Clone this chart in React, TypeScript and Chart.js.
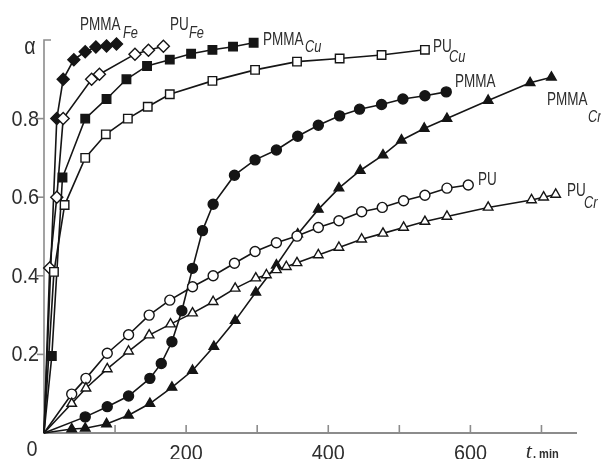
import React, { useEffect, useRef } from "react";
import { Chart, registerables } from "chart.js";

Chart.register(...registerables);

// time, min
const pmmaFeT = [0, 18, 27, 42, 58, 73, 88, 102];
const pmmaFeA = [0, 0.8, 0.9, 0.95, 0.97, 0.982, 0.985, 0.99];

const puFeT = [0, 8, 18, 27, 67, 78, 128, 147, 168];
const puFeA = [0, 0.42, 0.6, 0.8, 0.9, 0.913, 0.964, 0.974, 0.984];

const pmmaCuT = [0, 11, 26, 58, 88, 116, 145, 177, 207, 237, 266, 295];
const pmmaCuA = [0, 0.196, 0.65, 0.8, 0.85, 0.9, 0.934, 0.95, 0.965, 0.975, 0.983, 0.993];

const puCuT = [0, 14, 29, 58, 87, 118, 146, 177, 237, 297, 356, 416, 475, 536];
const puCuA = [0, 0.41, 0.58, 0.7, 0.76, 0.8, 0.83, 0.862, 0.896, 0.924, 0.945, 0.953, 0.962, 0.975];

const pmmaT = [0, 58, 89, 119, 149, 165, 180, 194, 209, 223, 238, 268, 297, 327, 357, 386, 416, 444, 475, 505, 536, 566];
const pmmaA = [0, 0.041, 0.067, 0.094, 0.139, 0.177, 0.232, 0.311, 0.419, 0.515, 0.582, 0.656, 0.695, 0.72, 0.755, 0.783, 0.807, 0.824, 0.836, 0.85, 0.858, 0.868];

const pmmaCrT = [0, 39, 58, 88, 119, 149, 180, 209, 239, 269, 298, 327, 357, 386, 415, 445, 477, 503, 535, 567, 625, 684, 714];
const pmmaCrA = [0, 0.01, 0.012, 0.023, 0.045, 0.075, 0.116, 0.159, 0.22, 0.286, 0.358, 0.427, 0.506, 0.569, 0.623, 0.668, 0.707, 0.745, 0.775, 0.8, 0.846, 0.891, 0.905];

const puT = [0, 39, 59, 89, 119, 148, 177, 209, 238, 268, 297, 327, 356, 386, 415, 447, 476, 506, 536, 567, 597];
const puA = [0, 0.099, 0.139, 0.203, 0.25, 0.3, 0.338, 0.372, 0.4, 0.432, 0.462, 0.484, 0.501, 0.523, 0.54, 0.563, 0.574, 0.591, 0.605, 0.623, 0.631];

const puCrT = [0, 39, 59, 89, 119, 148, 178, 209, 238, 269, 298, 313, 327, 341, 356, 386, 415, 447, 477, 506, 536, 567, 625, 686, 703, 720];
const puCrA = [0, 0.075, 0.114, 0.163, 0.208, 0.249, 0.277, 0.305, 0.334, 0.368, 0.394, 0.402, 0.415, 0.423, 0.433, 0.453, 0.472, 0.493, 0.508, 0.523, 0.538, 0.551, 0.574, 0.593, 0.6, 0.607];

const xTickMarks = [100, 200, 300, 400, 500, 600, 700];
const xLabelValues = [200, 400, 600];
const xLabelTexts = ["200", "400", "600"];
const yTickMarks = [0.2, 0.4, 0.6, 0.8];
const yLabelTexts = ["0.2", "0.4", "0.6", "0.8"];

const INK = "#151515";
const AXIS = "#8c8c8c";
const TEXT = "#2e2e2e";

function series(label: string, xs: number[], ys: number[], style: string, filled: boolean, r: number) {
  return {
    label,
    data: xs.map((x, i) => ({ x, y: ys[i] })),
    borderColor: INK,
    borderWidth: 1.6,
    pointStyle: style,
    pointRadius: xs.map((x) => (x === 0 ? 0 : r)),
    pointBackgroundColor: filled ? INK : "#ffffff",
    pointBorderColor: INK,
    pointBorderWidth: 1.4,
    tension: 0,
    fill: false,
    clip: false as any,
  };
}

function scaledText(ctx: CanvasRenderingContext2D, text: string, x: number, y: number, font: string, sx: number, align: CanvasTextAlign = "left", baseline: CanvasTextBaseline = "alphabetic") {
  ctx.save();
  ctx.translate(x, y);
  ctx.scale(sx, 1);
  ctx.font = font;
  ctx.textAlign = align;
  ctx.textBaseline = baseline;
  ctx.fillText(text, 0, 0);
  ctx.restore();
}

const decorPlugin = {
  id: "decor",
  beforeDatasetsDraw(chart: any) {
    const ctx: CanvasRenderingContext2D = chart.ctx;
    const xs = chart.scales.x;
    const ys = chart.scales.y;
    const x0 = xs.getPixelForValue(0);
    const x1 = xs.getPixelForValue(750);
    const y0 = ys.getPixelForValue(0);
    const y1 = ys.getPixelForValue(1);
    ctx.save();
    ctx.strokeStyle = AXIS;
    ctx.lineWidth = 2;
    ctx.beginPath();
    ctx.moveTo(x0 - 1, y0);
    ctx.lineTo(x1, y0);
    ctx.stroke();
    ctx.lineWidth = 1.6;
    ctx.beginPath();
    ctx.moveTo(x0 + 7, y1);
    ctx.lineTo(x0, y1);
    ctx.lineTo(x0, y0);
    ctx.stroke();
    ctx.lineWidth = 1.6;
    for (const v of xTickMarks) {
      const px = xs.getPixelForValue(v);
      ctx.beginPath();
      ctx.moveTo(px, y0);
      ctx.lineTo(px, y0 - 8);
      ctx.stroke();
    }
    for (const v of yTickMarks) {
      const py = ys.getPixelForValue(v);
      ctx.beginPath();
      ctx.moveTo(x0 - 7, py);
      ctx.lineTo(x0, py);
      ctx.stroke();
    }
    ctx.restore();
  },
  afterDraw(chart: any) {
    const ctx: CanvasRenderingContext2D = chart.ctx;
    const xs = chart.scales.x;
    const ys = chart.scales.y;
    const x0 = xs.getPixelForValue(0);
    const y0 = ys.getPixelForValue(0);
    const y1 = ys.getPixelForValue(1);
    ctx.save();
    ctx.fillStyle = TEXT;
    const numFont = "22px 'Liberation Sans', Arial, sans-serif";
    yTickMarks.forEach((v, i) => {
      scaledText(ctx, yLabelTexts[i], x0 - 5, ys.getPixelForValue(v) + 1, numFont, 0.9, "right", "middle");
    });
    xLabelValues.forEach((v, i) => {
      scaledText(ctx, xLabelTexts[i], xs.getPixelForValue(v), y0 + 10, numFont, 0.9, "center", "top");
    });
    scaledText(ctx, "0", x0 - 12, y0 + 6, numFont, 0.9, "center", "top");
    scaledText(ctx, "α", x0 - 14, y1 + 8, "23px 'Liberation Sans', Arial, sans-serif", 0.85, "center", "middle");
    scaledText(ctx, "t", xs.getPixelForValue(678), y0 + 25, "italic 22px 'Liberation Serif', serif", 1, "left", "alphabetic");
    scaledText(ctx, ". min", xs.getPixelForValue(688), y0 + 25, "bold 13px 'Liberation Sans', Arial, sans-serif", 0.85, "left", "alphabetic");

    const main = "18px 'Liberation Sans', Arial, sans-serif";
    const sub = "italic 16px 'Liberation Sans', Arial, sans-serif";
    const lab = (t: string, s: string, x: number, y: number, sx2: number, sy2: number) => {
      scaledText(ctx, t, x, y, main, 0.75);
      if (s) scaledText(ctx, s, sx2, sy2, sub, 0.8);
    };
    lab("PMMA", "Fe", 80, 30, 123, 38);
    lab("PU", "Fe", 170, 30, 189, 38);
    lab("PMMA", "Cu", 263, 45, 305, 52);
    lab("PU", "Cu", 433, 52, 449, 62);
    lab("PMMA", "", 455, 87, 0, 0);
    lab("PMMA", "Cr", 547, 105, 588, 122);
    lab("PU", "", 478, 185, 0, 0);
    lab("PU", "Cr", 567, 196, 584, 208);
    ctx.restore();
  },
};

export default function App() {
  const ref = useRef<HTMLCanvasElement | null>(null);
  useEffect(() => {
    if (!ref.current) return;
    const chart = new Chart(ref.current, {
      type: "line",
      data: {
        datasets: [
          series("PU Cr", puCrT, puCrA, "triangle", false, 5.5),
          series("PU", puT, puA, "circle", false, 5),
          series("PMMA Cr", pmmaCrT, pmmaCrA, "triangle", true, 5.5),
          series("PMMA", pmmaT, pmmaA, "circle", true, 5),
          series("PU Cu", puCuT, puCuA, "rect", false, 6),
          series("PMMA Cu", pmmaCuT, pmmaCuA, "rect", true, 6),
          series("PU Fe", puFeT, puFeA, "rectRot", false, 6),
          series("PMMA Fe", pmmaFeT, pmmaFeA, "rectRot", true, 6),
        ] as any,
      },
      options: {
        responsive: false,
        animation: false,
        devicePixelRatio: 1,
        layout: { padding: { left: 44, top: 40, right: 24, bottom: 26 } },
        plugins: { legend: { display: false }, tooltip: { enabled: false } },
        scales: {
          x: { type: "linear", min: 0, max: 750, display: false },
          y: { type: "linear", min: 0, max: 1, display: false },
        },
      } as any,
      plugins: [decorPlugin as any],
    });
    return () => chart.destroy();
  }, []);
  return (
    <div style={{ position: "fixed", left: 0, top: 0, width: 601, height: 459, background: "#fff" }}>
      <canvas ref={ref} width={601} height={459} style={{ display: "block" }} />
    </div>
  );
}
